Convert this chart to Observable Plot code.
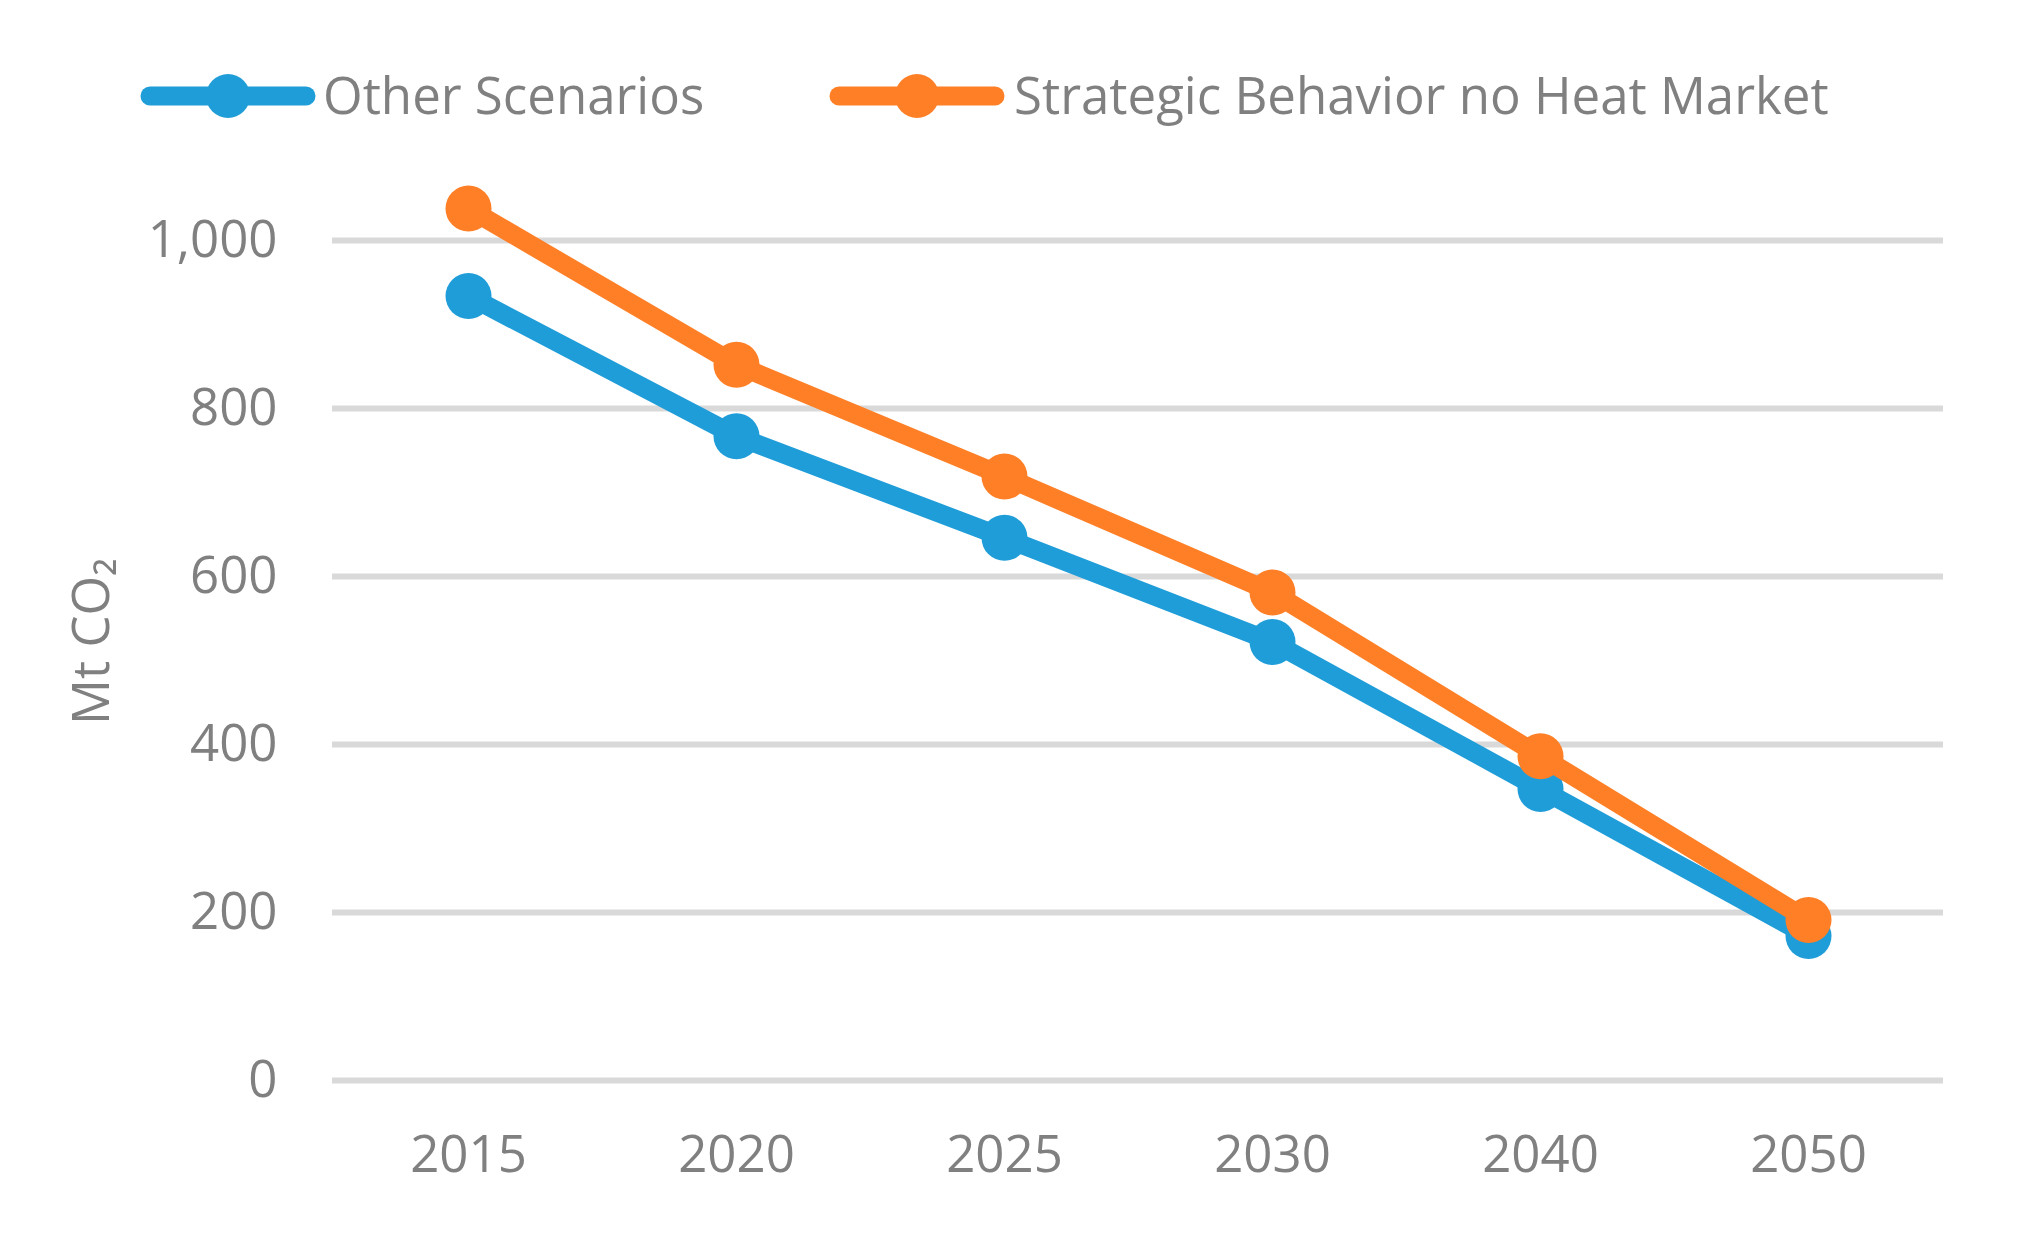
<!DOCTYPE html>
<html>
<head>
<meta charset="utf-8">
<script src="https://cdn.jsdelivr.net/npm/d3@7"></script>
<script src="https://cdn.jsdelivr.net/npm/@observablehq/plot@0.6"></script>
<style>
  html, body { margin: 0; padding: 0; background: #fff; }
  #legend { position: relative; width: 2034px; height: 170px; font-family: "Open Sans", sans-serif; }
  #chart { width: 2034px; }
</style>
</head>
<body>
<div id="legend"></div>
<div id="chart"></div>
<script>
const years = ["2015", "2020", "2025", "2030", "2040", "2050"];
const otherScenarios = [934, 767, 646, 522, 347, 172];
const strategicNoHeat = [1038, 852, 719, 581, 386, 191];
const seriesNames = ["Other Scenarios", "Strategic Behavior no Heat Market"];
const seriesColors = ["#1f9dd9", "#fe7f26"];
const yTicks = [0, 200, 400, 600, 800, 1000];

const rows = [];
years.forEach((y, i) => rows.push({year: y, value: otherScenarios[i], series: seriesNames[0]}));
years.forEach((y, i) => rows.push({year: y, value: strategicNoHeat[i], series: seriesNames[1]}));
const blue = rows.filter(d => d.series === seriesNames[0]);
const orange = rows.filter(d => d.series === seriesNames[1]);

// Legend (SVG above the chart)
const legendItems = [
  {name: seriesNames[0], color: seriesColors[0], x: 140, tx: 323},
  {name: seriesNames[1], color: seriesColors[1], x: 829, tx: 1014}
];
const ns = "http://www.w3.org/2000/svg";
const lsvg = document.createElementNS(ns, "svg");
lsvg.setAttribute("width", 2034);
lsvg.setAttribute("height", 170);
lsvg.style.display = "block";
legendItems.forEach(item => {
  const line = document.createElementNS(ns, "line");
  line.setAttribute("x1", item.x + 10);
  line.setAttribute("x2", item.x + 166);
  line.setAttribute("y1", 96);
  line.setAttribute("y2", 96);
  line.setAttribute("stroke", item.color);
  line.setAttribute("stroke-width", 19);
  line.setAttribute("stroke-linecap", "round");
  lsvg.appendChild(line);
  const c = document.createElementNS(ns, "circle");
  c.setAttribute("cx", item.x + 88);
  c.setAttribute("cy", 96);
  c.setAttribute("r", 22);
  c.setAttribute("fill", item.color);
  lsvg.appendChild(c);
  const t = document.createElementNS(ns, "text");
  t.setAttribute("x", item.tx);
  t.setAttribute("y", 114);
  t.setAttribute("fill", "#808080");
  t.setAttribute("font-family", "Open Sans, sans-serif");
  t.setAttribute("font-size", 51);
  t.textContent = item.name;
  lsvg.appendChild(t);
});
document.getElementById("legend").appendChild(lsvg);

const chart = Plot.plot({
  width: 2034,
  height: 1081,
  marginTop: 70,
  marginBottom: 171,
  marginLeft: 332,
  marginRight: 91,
  style: {fontFamily: "Open Sans, sans-serif", fontSize: "51px", color: "#808080", background: "#fff", overflow: "visible"},
  x: {type: "point", domain: years, padding: 0.5, label: null},
  y: {domain: [0, 1000], label: null},
  marks: [
    Plot.gridY(yTicks, {stroke: "#d9d9d9", strokeWidth: 6, strokeOpacity: 1}),
    Plot.axisY(yTicks, {tickSize: 0, tickPadding: 55, tickFormat: d3.format(","), label: null, fontSize: 51}),
    Plot.axisX({tickSize: 0, tickPadding: 55, label: null, fontSize: 51}),
    Plot.text(["Mt CO₂"], {frameAnchor: "left", dx: -240, dy: -19, rotate: -90, textAnchor: "middle", lineAnchor: "middle", fill: "#808080", fontSize: 51}),
    Plot.line(blue, {x: "year", y: "value", stroke: seriesColors[0], strokeWidth: 19, strokeLinejoin: "round", strokeLinecap: "round"}),
    Plot.dot(blue, {x: "year", y: "value", r: 23, fill: seriesColors[0], stroke: "none"}),
    Plot.line(orange, {x: "year", y: "value", stroke: seriesColors[1], strokeWidth: 19, strokeLinejoin: "round", strokeLinecap: "round"}),
    Plot.dot(orange, {x: "year", y: "value", r: 23, fill: seriesColors[1], stroke: "none"})
  ]
});
document.getElementById("chart").appendChild(chart);
</script>
</body>
</html>
